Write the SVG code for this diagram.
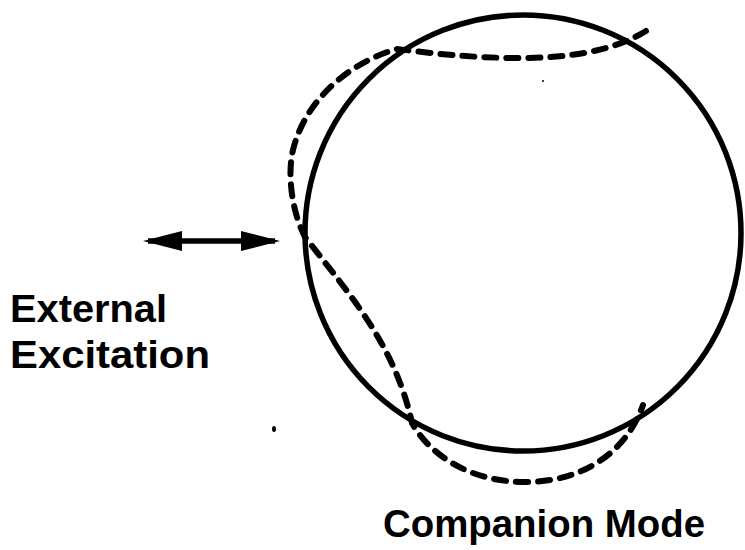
<svg xmlns="http://www.w3.org/2000/svg" width="745" height="550" viewBox="0 0 745 550">
<style>
.lbl{font-family:"Liberation Sans",Arial,sans-serif;font-weight:bold;font-size:39px;fill:#000}
.solid{fill:none;stroke:#000;stroke-width:5.5}
.mode{fill:none;stroke:#000;stroke-width:6;stroke-dasharray:12 10;stroke-linecap:round}
</style>
<defs>
<marker id="head" markerUnits="userSpaceOnUse" markerWidth="42" markerHeight="22" refX="34" refY="10" orient="auto-start-reverse">
<path d="M0,0 L39,10 L0,20 z" fill="#000"/>
</marker>
</defs>
<rect width="745" height="550" fill="#fff"/>
<g id="ring">
<circle class="solid" cx="523" cy="233" r="218"/>
</g>
<g id="companion-mode">
<path class="mode" d="M646 31 C612 52 565 58 520 58 C470 58 430 53 397 49 C350 62 305 100 293 150 C287 175 292 212 305 237 C350 295 395 345 412 423 C430 455 470 482 525 482 C580 482 625 455 643 405"/>
</g>
<g id="connectors">
<line x1="148" y1="241" x2="275" y2="241" stroke="#000" stroke-width="5.5" marker-start="url(#head)" marker-end="url(#head)"/>
</g>
<g id="excitation-label">
<text class="lbl" x="10" y="322" textLength="157" lengthAdjust="spacingAndGlyphs">External</text>
<text class="lbl" x="10" y="368" textLength="200" lengthAdjust="spacingAndGlyphs">Excitation</text>
</g>
<g id="mode-label">
<text class="lbl" x="383" y="537" textLength="322" lengthAdjust="spacingAndGlyphs">Companion Mode</text>
</g>
<ellipse cx="274" cy="429" rx="2" ry="3" fill="#000"/>
<circle cx="543" cy="81" r="1" fill="#000"/>
</svg>
